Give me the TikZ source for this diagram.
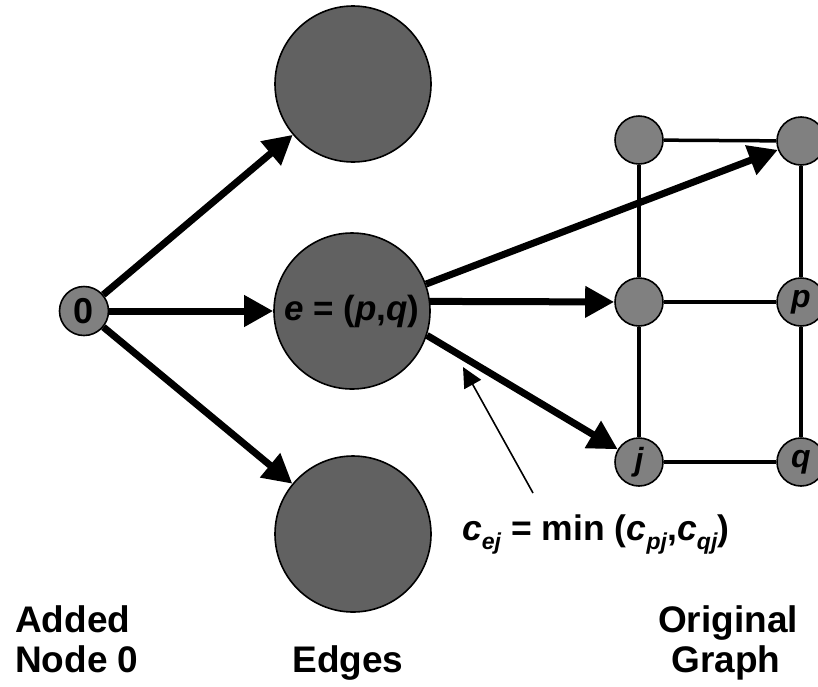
\documentclass[tikz,border=0pt]{standalone}
\usepackage{fontspec}
\setmainfont{Liberation Sans}
\usetikzlibrary{arrows.meta}
\begin{document}
\begin{tikzpicture}[x=1pt,y=-1pt,
  bigc/.style={circle,draw=black,line width=1.6pt,fill=black!62,minimum size=156pt,inner sep=0pt},
  smallc/.style={circle,draw=black,line width=1.6pt,fill=black!50,minimum size=48pt,inner sep=0pt},
  fatarrow/.style={line width=7pt,-{Triangle[length=29pt,width=30pt]}},
  gridline/.style={line width=3.5pt},
  thinarrow/.style={line width=1.6pt,-{Triangle[length=20pt,width=19pt]}},
  lab/.style={font=\fontsize{37}{40}\selectfont\bfseries,inner sep=0pt},
  intext/.style={font=\fontsize{35}{37}\selectfont\bfseries},
  letter/.style={font=\fontsize{32}{34}\selectfont\bfseries\itshape},
]
\useasboundingbox (0,0) rectangle (818,686);
\clip (0,0) rectangle (818,686);
% added node 0
\node[smallc,minimum size=49pt,font=\fontsize{36}{38}\selectfont\bfseries] (n0) at (84,311) {0};
% edge nodes
\node[bigc] (top) at (353,84) {};
\node[bigc,intext] (e) at (352,311) {\textit{e} = (\textit{p},\textit{q})};
\node[bigc] (bot) at (353,534) {};
% original graph
\node[smallc] (g11) at (639,140) {};
\node[smallc] (g12) at (801,141) {};
\node[smallc] (g21) at (639,302) {};
\node[smallc,letter] (g22) at (801,302) {p};
\node[smallc,letter] (g31) at (639,462) {j};
\node[smallc,letter] (g32) at (801,462) {q};
% grid lines
\draw[gridline] (g11) -- (g12);
\draw[gridline] (g11) -- (g21);
\draw[gridline] (g12) -- (g22);
\draw[gridline] (g21) -- (g22);
\draw[gridline] (g21) -- (g31);
\draw[gridline] (g22) -- (g32);
\draw[gridline] (g31) -- (g32);
% fat arrows
\draw[fatarrow] (n0) -- (top);
\draw[fatarrow] (n0) -- (e);
\draw[fatarrow] (n0) -- (bot);
\draw[fatarrow] (e.20) -- (g12);
\draw[fatarrow] (e.7) -- (g21);
\draw[fatarrow] (e.-18) -- (g31);
% annotation
\coordinate (ta) at (533,493);
\coordinate (tb) at (463,367);
\draw[thinarrow] (ta) -- (tb);
\node[anchor=base west,inner sep=0pt,font=\fontsize{35.5}{37}\selectfont\bfseries] (formula) at (462,540)
  {\textit{c}\raisebox{-0.28em}{\fontsize{23}{23}\selectfont\textit{ej}} = min (\textit{c}\raisebox{-0.28em}{\fontsize{23}{23}\selectfont\textit{pj}},\textit{c}\raisebox{-0.28em}{\fontsize{23}{23}\selectfont\textit{qj}})};
% labels
\node[lab,anchor=base west] (l1a) at (15,632) {Added};
\node[lab,anchor=base west] (l1b) at (15,672) {Node 0};
\node[lab,anchor=base] (l2) at (348,672) {Edges};
\node[lab,anchor=base] (l3a) at (728,632) {Original};
\node[lab,anchor=base] (l3b) at (726,672) {Graph};
\end{tikzpicture}
\end{document}
